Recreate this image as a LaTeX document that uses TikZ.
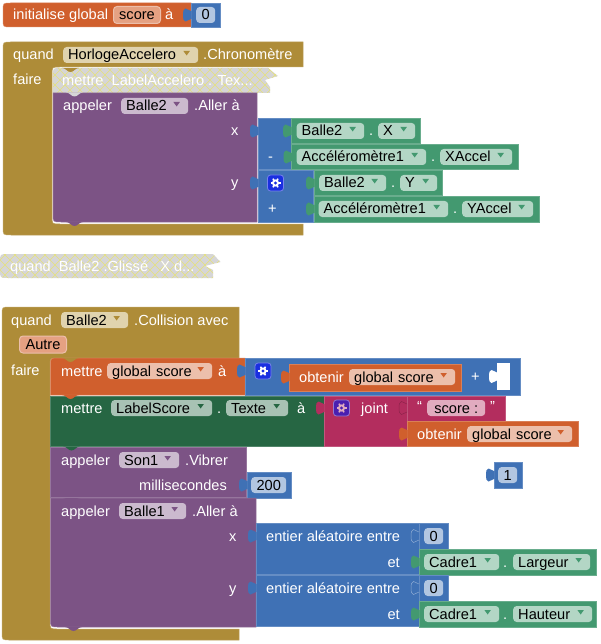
\documentclass[tikz,border=0pt]{standalone}
\usepackage{fontspec}
\setmainfont{Liberation Sans}
\usepackage{xcolor}
\usetikzlibrary{positioning}
\definecolor{goldblock}{HTML}{AE8C38}
\definecolor{goldfield}{HTML}{E0D3AE}
\definecolor{orangeblock}{HTML}{D05F2D}
\definecolor{orangefield}{HTML}{ECBFAB}
\definecolor{namefield}{HTML}{E5A182}
\definecolor{bluemath}{HTML}{3F71B5}
\definecolor{bluefield}{HTML}{B2C6E1}
\definecolor{greenprop}{HTML}{439970}
\definecolor{greenfield}{HTML}{B3D6C5}
\definecolor{darkgreen}{HTML}{266643}
\definecolor{darkgreenfield}{HTML}{A8C2B4}
\definecolor{purplecall}{HTML}{7C5385}
\definecolor{purplefield}{HTML}{CBBACE}
\definecolor{pinktext}{HTML}{B32D5E}
\definecolor{pinkfield}{HTML}{E1ABBF}
\definecolor{offgray}{HTML}{D6D6D6}
\definecolor{offhatch}{HTML}{E6E27A}
\definecolor{mutblue}{HTML}{1A2FE0}
\definecolor{mutpurple}{HTML}{4A1FB0}
\tikzset{
  block/.style={fill=#1, draw=#1!80!white, line width=.5pt},
  blocktext/.style={
    anchor=west, inner sep=0pt, text=white,
    text height=11.5pt, text depth=1.5pt,
    font=\fontsize{14.6}{16}\selectfont
  },
  field/.style={
    anchor=west, inner xsep=5pt, inner ysep=0pt, rounded corners=3.5pt,
    minimum height=16pt, text=black, text height=11.5pt, text depth=1.5pt,
    font=\fontsize{14.6}{16}\selectfont
  },
  valfield/.style={field, align=center, inner xsep=0pt},
  namebox/.style={
    valfield, fill=namefield, draw=orangefield, line width=1pt, minimum height=17pt
  },
  hatchline/.style={draw=offhatch, line width=.6pt},
  pics/inputtab/.style={code={
    \fill[#1] (.5,-4) -- (0,-4) .. controls (-2.5,-4) and (-3,-6.5) .. (-5.5,-6.5)
      .. controls (-7.5,-6.5) and (-8,-3.5) .. (-8,0)
      .. controls (-8,3.5) and (-7.5,6.5) .. (-5.5,6.5)
      .. controls (-3,6.5) and (-2.5,4) .. (0,4) -- (.5,4) -- cycle;
  }},
  pics/linetab/.style 2 args={code={
    \path[fill=#1, draw=#2, line width=.5pt] (0,-4) .. controls (-2.5,-4) and (-3,-6.5) .. (-5.5,-6.5)
      .. controls (-7.5,-6.5) and (-8,-3.5) .. (-8,0)
      .. controls (-8,3.5) and (-7.5,6.5) .. (-5.5,6.5)
      .. controls (-3,6.5) and (-2.5,4) .. (0,4);
  }},
  pics/stmttab/.style={code={
    \fill[#1] (0,0) .. controls (4,0) and (5,4) .. (8.5,4)
      .. controls (12,4) and (13,0) .. (17,0) -- cycle;
  }},
  pics/gearicon/.style 2 args={code={
    \path[fill=#1, draw=#1!60!white, line width=.8pt, rounded corners=3pt] (-8,-8) rectangle (8,8);
    \foreach \a in {0,60,...,300} {\draw[#2, line width=1.6pt] (0,0) -- (\a:5);}
    \fill[#2] (0,0) circle[radius=3.6];
    \fill[#1] (0,0) circle[radius=1.7];
  }}
}
\newcommand{\ddfield}[7]{%
  \pgfmathsetlengthmacro{\fieldwd}{#3-#2-10}%
  \node[field, fill=#6, text width=\fieldwd, align=left] (#1) at (#2,#4) {#5};
  \fill[#7] ([xshift=-15pt,yshift=4pt]#1.east) -- ++(6.5pt,0pt) -- ++(-3.25pt,-4.5pt) -- cycle;
}
\begin{document}
\begin{tikzpicture}[x=1pt,y=-1pt]
  \useasboundingbox (0,0) rectangle (600,644);

  % first row
  \path[block=orangeblock] (11,3) -- (191,3) -- (191,27) -- (11,27)
    .. controls (3,27) .. (3,19) -- (3,11) .. controls (3,3) .. (11,3) -- cycle;
  \path[block=bluemath] (191,3) rectangle (220.5,27);
  \pic at (191,15) {inputtab=bluemath};
  \node[blocktext] (initlabel) at (13,15) {initialise global};
  \node[namebox, minimum width=47pt] (scorename) at (113,15) {score};
  \node[blocktext] (initto) at (165,15) {à};
  \node[valfield, fill=bluefield, minimum width=19pt] (initzero) at (196,15) {0};

  % clock event
  \path[block=goldblock] (11,42) -- (303,42) -- (303,67) -- (60,67) .. controls (52,67) .. (52,75)
    -- (52,216) .. controls (52,224) .. (60,224) -- (303,224) -- (303,235) -- (11,235)
    .. controls (3,235) .. (3,227) -- (3,50) .. controls (3,42) .. (11,42) -- cycle;
  \node[blocktext] (clockwhen) at (13,55) {quand};
  \ddfield{clockname}{63}{198}{55}{HorlogeAccelero}{goldfield}{goldblock}
  \node[blocktext] (clockevent) at (203,55) {.Chronomètre};
  \node[blocktext] (clockdo) at (13,80) {faire};

  \begin{scope}
    \clip (60,68) .. controls (53,68) .. (53,75) -- (53,93) -- (270,93) -- (270,87) -- (265,80)
      -- (278,76) -- (268,68) -- cycle;
    \fill[offgray] (50,60) rectangle (280,100);
    \foreach \k in {20,30,...,280} {
      \draw[hatchline] (\k,60) -- ++(40,40);
      \draw[hatchline] (\k,100) -- ++(40,-40);
    }
  \end{scope}
  \pic at (62,68) {stmttab=goldblock};
  \node[blocktext] (offlabel) at (62,81) {mettre\ \ LabelAccelero . Tex...};

  \path[block=purplecall] (53,93) -- (257,93) -- (257,222) -- (61,222)
    .. controls (53,222) .. (53,214) -- cycle;
  \pic at (66,92.5) {stmttab=offgray};
  \pic at (66,222) {stmttab=purplecall};
  \node[blocktext] (movecall) at (63,106) {appeler};
  \ddfield{movename}{121}{188}{106}{Balle2}{purplefield}{purplecall}
  \node[blocktext] (movelabel) at (194,106) {.Aller à};
  \node[blocktext] (movex) at (231,131) {x};
  \node[blocktext] (movey) at (231,183) {y};

  \path[block=bluemath] (258,118) rectangle (291,169.5);
  \path[block=bluemath] (258,170) rectangle (313,222);
  \pic at (258,131) {inputtab=bluemath};
  \pic at (258,183) {inputtab=bluemath};
  \path[block=greenprop] (291,118) rectangle (420,143.5);
  \path[block=greenprop] (291.5,144) rectangle (518,169.5);
  \path[block=greenprop] (314,170) rectangle (442,195.5);
  \path[block=greenprop] (314,196) rectangle (539,222);
  \pic at (291,131) {inputtab=greenprop};
  \pic at (291.5,157) {inputtab=greenprop};
  \pic at (314,183) {inputtab=greenprop};
  \pic at (314,209) {inputtab=greenprop};
  \node[blocktext] (minussign) at (268,157) {-};
  \node[blocktext] (plussign) at (268,209) {+};
  \pic at (275.5,183) {gearicon={mutblue}{white}};

  \ddfield{ballxname}{296.5}{364}{131}{Balle2}{greenfield}{greenprop}
  \node[blocktext] (ballxdot) at (369,131) {.};
  \ddfield{ballxprop}{378}{415}{131}{X}{greenfield}{greenprop}
  \ddfield{accxname}{296.5}{426}{157}{Accéléromètre1}{greenfield}{greenprop}
  \node[blocktext] (accxdot) at (431,157) {.};
  \ddfield{accxprop}{440}{512}{157}{XAccel}{greenfield}{greenprop}
  \ddfield{ballyname}{319}{386}{183}{Balle2}{greenfield}{greenprop}
  \node[blocktext] (ballydot) at (391,183) {.};
  \ddfield{ballyprop}{400}{437}{183}{Y}{greenfield}{greenprop}
  \ddfield{accyname}{318.5}{448}{209}{Accéléromètre1}{greenfield}{greenprop}
  \node[blocktext] (accydot) at (453,209) {.};
  \ddfield{accyprop}{462}{533}{209}{YAccel}{greenfield}{greenprop}

  % disabled drag event
  \begin{scope}
    \clip (8,254) -- (213,254) -- (220.5,262) -- (205,266) -- (213,270) -- (213,278) -- (8,278)
      .. controls (0,278) .. (0,270) -- (0,262) .. controls (0,254) .. (8,254) -- cycle;
    \fill[offgray] (0,250) rectangle (225,280);
    \foreach \k in {-30,-20,...,220} {
      \draw[hatchline] (\k,250) -- ++(30,30);
      \draw[hatchline] (\k,280) -- ++(30,-30);
    }
  \end{scope}
  \node[blocktext] (draglabel) at (10,266) {quand\ \ Balle2 .Glissé\ \ \ X d...};

  % collision event
  \path[block=goldblock] (10,307) -- (239,307) -- (239,358) -- (58,358) .. controls (50,358) .. (50,366)
    -- (50,621) .. controls (50,629) .. (58,629) -- (239,629) -- (239,640) -- (10,640)
    .. controls (2,640) .. (2,632) -- (2,315) .. controls (2,307) .. (10,307) -- cycle;
  \node[blocktext] (hitwhen) at (11,320) {quand};
  \ddfield{hitname}{61}{128}{320}{Balle2}{goldfield}{goldblock}
  \node[blocktext] (hitevent) at (134,320) {.Collision avec};
  \node[namebox, minimum width=47pt] (othername) at (19,344.5) {Autre};
  \node[blocktext] (hitdo) at (11,370) {faire};

  \path[block=orangeblock] (58,358) -- (245,358) -- (245,395) -- (50.5,395) -- (50.5,366)
    .. controls (50.5,358) .. (58,358) -- cycle;
  \path[block=bluemath] (245,358) rectangle (520.5,395);
  \pic at (245,371) {inputtab=bluemath};
  \path[block=orangeblock] (289,364) rectangle (461,391);
  \pic at (289,377) {inputtab=orangeblock};
  \fill[white] (497,363) rectangle (510,390);
  \pic at (497,376.5) {inputtab=white};
  \pic at (263,371) {gearicon={mutblue}{white}};
  \pic at (62,358) {stmttab=goldblock};
  \node[blocktext] (setlabel) at (61,371) {mettre};
  \ddfield{setname}{107}{212}{371}{global score}{orangefield}{orangeblock}
  \node[blocktext] (setto) at (218,371) {à};
  \node[blocktext] (getlabel) at (299,377) {obtenir};
  \ddfield{getname}{349}{455}{377}{global score}{orangefield}{orangeblock}
  \node[blocktext] (addsign) at (471,376) {+};

  \path[block=darkgreen] (50.5,396) rectangle (324,446.5);
  \path[block=pinktext] (324,396) rectangle (407,446.5);
  \path[block=pinktext] (407,396) rectangle (505.5,421);
  \path[block=orangeblock] (407,421.5) rectangle (578,446.5);
  \pic at (62,395) {stmttab=orangeblock};
  \pic at (324,408) {inputtab=pinktext};
  \pic at (407,408) {linetab={pinktext}{pinktext!80!black}};
  \pic at (407,434) {inputtab=orangeblock};
  \pic at (341.5,408) {gearicon={mutpurple}{pinkfield}};
  \node[blocktext] (textlabel) at (61,408) {mettre};
  \ddfield{textname}{111}{212}{408}{LabelScore}{darkgreenfield}{darkgreen}
  \node[blocktext] (textdot) at (217,408) {.};
  \ddfield{textprop}{226}{288}{408}{Texte}{darkgreenfield}{darkgreen}
  \node[blocktext] (textto) at (297,408) {à};
  \node[blocktext] (joinlabel) at (361,408) {joint};
  \node[blocktext] (openquote) at (417,406) {“};
  \node[valfield, fill=pinkfield, minimum width=58pt] (scoretext) at (427,408) {score :};
  \node[blocktext] (closequote) at (490,406) {”};
  \node[blocktext] (getlabelb) at (417,434) {obtenir};
  \ddfield{getnameb}{467}{572}{434}{global score}{orangefield}{orangeblock}

  \path[block=bluemath] (494,462) rectangle (522,488);
  \pic at (494,475) {inputtab=bluemath};
  \node[valfield, fill=bluefield, minimum width=19pt] (onevalue) at (498,475) {1};

  \path[block=purplecall] (50.5,447) -- (246.5,447) -- (246.5,497.5) -- (50.5,497.5) -- cycle;
  \path[block=bluemath] (247,472) rectangle (291.5,498);
  \pic at (247,485) {inputtab=bluemath};
  \pic at (63,446.5) {stmttab=darkgreen};
  \node[blocktext] (buzzcall) at (61,460) {appeler};
  \ddfield{buzzname}{119}{179}{460}{Son1}{purplefield}{purplecall}
  \node[blocktext] (buzzlabel) at (185,460) {.Vibrer};
  \node[blocktext] (buzzms) at (139,485) {millisecondes};
  \node[valfield, fill=bluefield, minimum width=35pt] (buzzvalue) at (251,485) {200};

  \path[block=purplecall] (50.5,498) -- (256,498) -- (256,627) -- (58.5,627)
    .. controls (50.5,627) .. (50.5,619) -- cycle;
  \pic at (63,498) {stmttab=purplecall};
  \pic at (65,627) {stmttab=purplecall};
  \node[blocktext] (jumpcall) at (61,511) {appeler};
  \ddfield{jumpname}{119}{186}{511}{Balle1}{purplefield}{purplecall}
  \node[blocktext] (jumplabel) at (192,511) {.Aller à};
  \node[blocktext] (jumpx) at (229,536) {x};
  \node[blocktext] (jumpy) at (229,588) {y};

  \foreach \top/\nm in {523/a,575/b} {
    \path[block=bluemath] (256,\top) rectangle (419,\top+51.5);
    \path[block=bluemath] (419,\top) rectangle (448,\top+26);
    \path[block=greenprop] (419,\top+26) rectangle (596+\top/575*2-2,\top+52);
    \pic at (256,\top+13) {inputtab=bluemath};
    \pic at (419,\top+13) {linetab={bluemath}{bluemath!60!white}};
    \pic at (419,\top+39) {inputtab=greenprop};
    \node[blocktext] (rand\nm) at (266,\top+13) {entier aléatoire entre};
    \node[blocktext, anchor=east] (randto\nm) at (400,\top+39) {et};
    \node[valfield, fill=bluefield, minimum width=19pt] (randmin\nm) at (424,\top+13) {0};
    \node[blocktext] (framedot\nm) at (503,\top+39) {.};
  }
  \ddfield{framea}{424}{499}{562}{Cadre1}{greenfield}{greenprop}
  \ddfield{widthprop}{513}{590}{562}{Largeur}{greenfield}{greenprop}
  \ddfield{frameb}{424}{499}{614}{Cadre1}{greenfield}{greenprop}
  \ddfield{heightprop}{513}{592}{614}{Hauteur}{greenfield}{greenprop}
\end{tikzpicture}
\end{document}
